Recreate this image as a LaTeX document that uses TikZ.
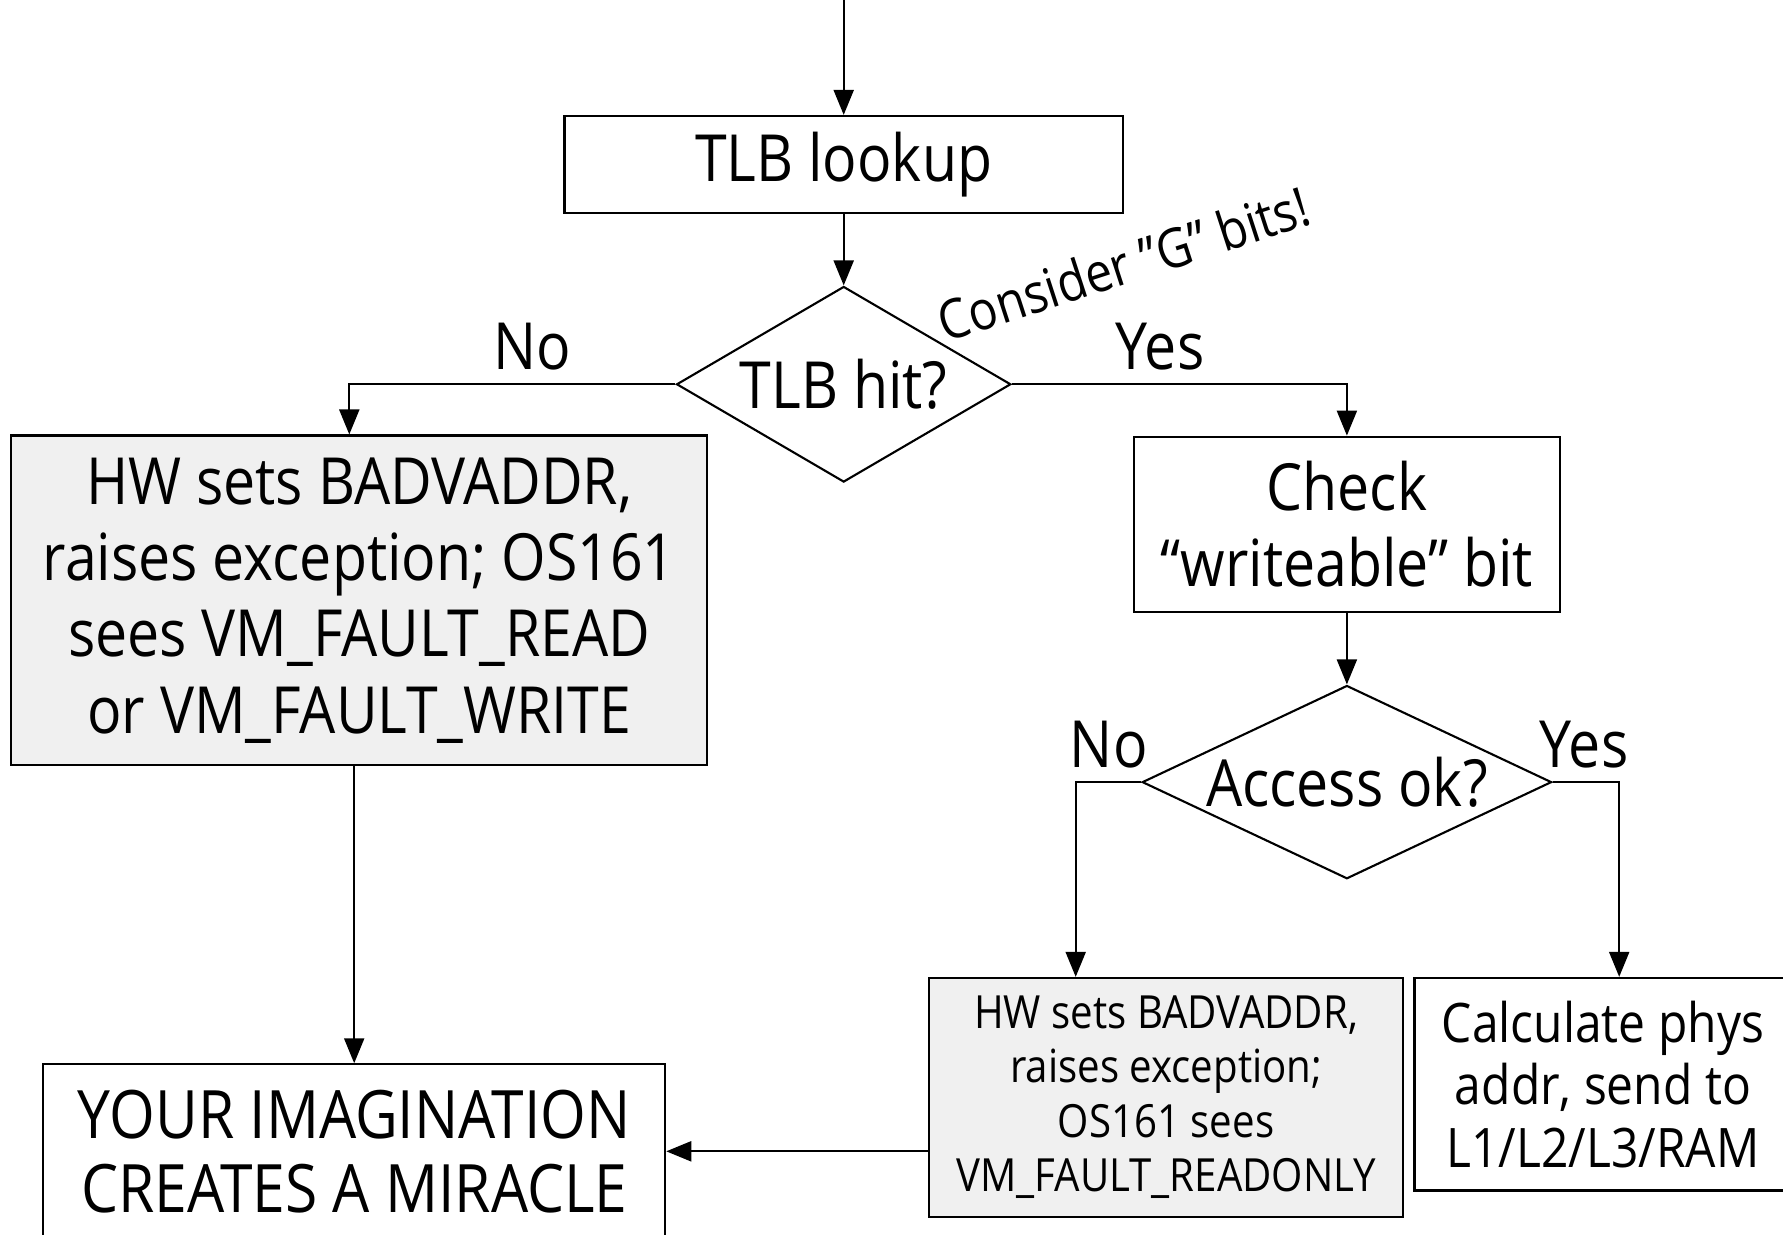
\documentclass[tikz,border=0pt]{standalone}
\usepackage{fontspec}
\setmainfont{Open Sans}[FakeStretch=0.88]
\usetikzlibrary{positioning,shapes.geometric,arrows.meta}
\definecolor{faultgray}{HTML}{F0F0F0}
\tikzset{
  box/.style={draw, line width=0.6pt, align=center, inner sep=0pt},
  fault/.style={box, fill=faultgray},
  decision/.style={diamond, draw, line width=0.6pt, inner sep=0pt},
  flow/.style={-{Triangle[length=0.25cm,width=0.2cm]}, line width=0.6pt},
  big/.style={font=\fontsize{18.5}{21.7}\selectfont},
  answer/.style={big, inner sep=0pt},
}
\begin{document}
\begin{tikzpicture}
  \path [use as bounding box, fill=white] (0,0) rectangle (17.83,-12.34);

  \coordinate (entry) at (8.437,0.1);
  \node (lookup) [box, big, minimum width=5.583cm, minimum height=0.967cm] at (8.437,-1.643) {TLB lookup};
  \node (hit) [decision, big, aspect=1.71, minimum width=3.343cm, minimum height=1.956cm, below=0.717cm of lookup] {TLB hit?};
  \node (gbits) [rotate=18, inner sep=0pt, font=\fontsize{15.5}{18}\selectfont] at (11.235,-2.638) {Consider "G" bits!};
  \node (nohit) [answer] at (5.322,-3.468) {No};
  \node (yeshit) [answer] at (11.60,-3.468) {Yes};

  \node (fault) [fault, big, minimum width=6.959cm, minimum height=3.298cm] at (3.593,-6.004)
    {HW sets BADVADDR,\\raises exception; OS161\\sees VM\_FAULT\_READ\\or VM\_FAULT\_WRITE};
  \node (check) [box, big, minimum width=4.264cm, minimum height=1.751cm] at (13.469,-5.242)
    {Check\\“writeable” bit};
  \node (access) [decision, big, aspect=2.12, minimum width=4.094cm, minimum height=1.933cm, below=0.716cm of check] {Access ok?};
  \node (noacc) [answer] at (11.087,-7.448) {No};
  \node (yesacc) [answer] at (15.840,-7.448) {Yes};

  \node (readonly) [fault, font=\fontsize{13}{15.5}\selectfont, minimum width=4.742cm, minimum height=2.388cm] at (11.661,-10.973)
    {HW sets BADVADDR,\\raises exception;\\OS161 sees\\VM\_FAULT\_READONLY};
  \node (calc) [box, font=\fontsize{15.5}{17.8}\selectfont, minimum width=3.77cm, minimum height=2.126cm] at (16.03,-10.842)
    {Calculate phys\\addr, send to\\L1/L2/L3/RAM};
  \node (miracle) [box, font=\fontsize{19}{21}\selectfont, minimum width=6.22cm, minimum height=1.74cm] at (3.542,-11.513)
    {YOUR IMAGINATION\\CREATES A MIRACLE};

  \draw [flow] (entry) to (lookup);
  \draw [flow] (lookup) to (hit);
  \draw [flow] (hit.west) -| ([xshift=-0.1cm]fault.north);
  \draw [flow] (hit.east) -| (check.north);
  \draw [flow] (check) to (access);
  \draw [flow] (access.west) -| ([xshift=-0.904cm]readonly.north);
  \draw [flow] (access.east) -| ([xshift=0.162cm]calc.north);
  \draw [flow] (fault.south -| miracle.north) to (miracle.north);
  \draw [flow] (readonly.west |- miracle.east) to (miracle.east);
\end{tikzpicture}
\end{document}
